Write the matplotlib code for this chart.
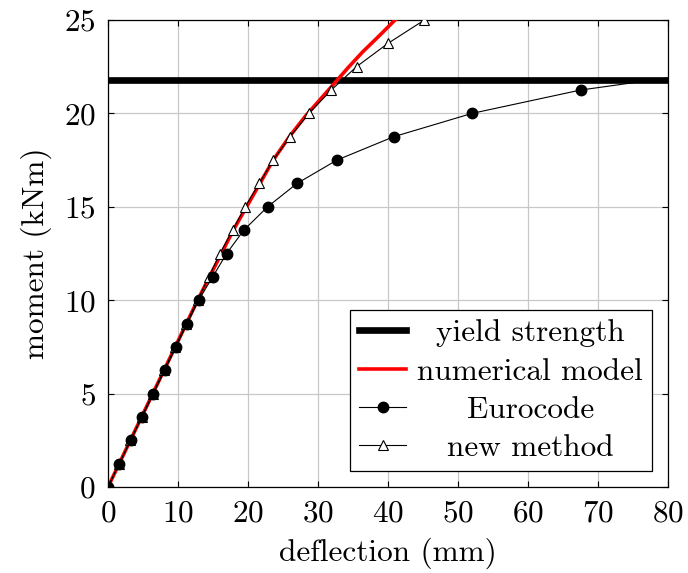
import matplotlib
matplotlib.use("Agg")
import numpy as np
from matplotlib import pyplot as plt
from matplotlib.transforms import Affine2D

plt.rcParams["font.family"] = "serif"
plt.rcParams["font.serif"] = ["cmr10"]
plt.rcParams["mathtext.fontset"] = "cm"
plt.rcParams["axes.formatter.use_mathtext"] = True

# values
yield_moment = 21.8

num_defl = [0, 6.4, 12.8, 14.5, 16.2, 17.9, 19.8, 21.7, 23.6, 25.9, 28.2,
            30.2, 32.2, 34.3, 36.4, 38.6, 41.0]
num_moment = [0, 5.0, 10.0, 11.25, 12.5, 13.75, 15.0, 16.25, 17.5, 18.75, 19.85,
              20.7, 21.55, 22.45, 23.3, 24.1, 25.0]

euro_defl = [0, 1.62, 3.24, 4.86, 6.48, 8.1, 9.72, 11.3, 12.95, 14.95, 16.95,
             19.4, 22.8, 27.0, 32.7, 40.8, 52.0, 67.5, 91.5]
euro_moment = [0, 1.25, 2.5, 3.75, 5.0, 6.25, 7.5, 8.75, 10.0, 11.25, 12.5,
               13.75, 15.0, 16.25, 17.5, 18.75, 20.0, 21.25, 22.5]

new_defl = [0, 1.6, 3.2, 4.8, 6.4, 8.0, 9.6, 11.2, 12.8, 14.4, 16.0,
            17.8, 19.6, 21.6, 23.6, 26.0, 28.7, 31.9, 35.5, 40.0, 45.2]
new_moment = [0, 1.25, 2.5, 3.75, 5.0, 6.25, 7.5, 8.75, 10.0, 11.25, 12.5,
              13.75, 15.0, 16.25, 17.5, 18.75, 20.0, 21.25, 22.5, 23.75, 25.0]

fs = 22.5

fig = plt.figure(figsize=(6.88, 5.73), dpi=100)
ax = fig.add_axes([108 / 688, 1 - 487 / 573, 560 / 688, 467 / 573])

ax.axhline(yield_moment, color="black", lw=4.8, zorder=2, label="yield strength")
ax.plot(num_defl, num_moment, color="red", lw=2.6, zorder=3, label="numerical model")
ax.plot(euro_defl, euro_moment, color="black", lw=0.8, marker="o", ms=7.5,
        zorder=5, label="Eurocode")
ax.plot(new_defl, new_moment, color="black", lw=0.8, marker="^", ms=7,
        mfc="white", mec="black", mew=0.8, zorder=4, label="new method")

ax.set_xlim(0, 80)
ax.set_ylim(0, 25)
ax.set_xticks(np.arange(0, 81, 10))
ax.set_yticks(np.arange(0, 26, 5))
ax.grid(True, color="#c8c8c8", lw=0.9)
ax.set_axisbelow(True)
ax.tick_params(direction="in", top=True, right=True, labelsize=fs, length=4,
               width=0.8, pad=9)
for s in ax.spines.values():
    s.set_linewidth(0.9)

ax.set_xlabel("deflection (mm)", fontsize=fs, labelpad=7)
ax.set_ylabel("moment (kNm)", fontsize=fs, labelpad=8)

leg = ax.legend(loc="lower right", fontsize=fs, fancybox=False, framealpha=1,
                edgecolor="black", handlelength=1.5, labelspacing=0.33,
                borderaxespad=0.5, handletextpad=0.35, borderpad=0.3)
leg.get_frame().set_linewidth(0.9)

# center the legend labels inside their column like pgfplots
fig.canvas.draw()
r = fig.canvas.get_renderer()
texts = leg.get_texts()
widths = [t.get_window_extent(r).width for t in texts]
wmax = max(widths)
for t, w in zip(texts, widths):
    t.set_transform(t.get_transform() + Affine2D().translate((wmax - w) / 2, 0))

fig.savefig("out.png", dpi=100)
